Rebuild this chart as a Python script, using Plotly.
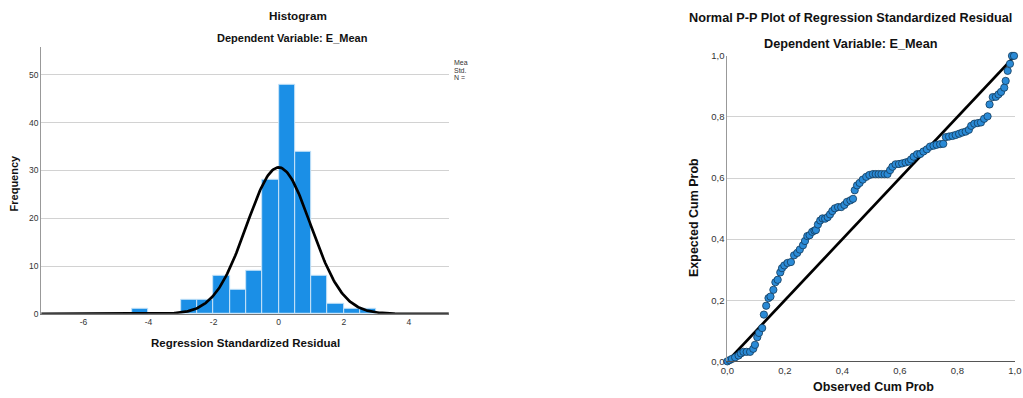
import numpy as np
import plotly.graph_objects as go

# ---------------- data ----------------
bin_left = [-4.5, -3.0, -2.5, -2.0, -1.5, -1.0, -0.5, 0.0, 0.5, 1.0, 1.5, 2.0, 2.5]
bin_count = [1, 3, 3, 8, 5, 9, 28, 48, 34, 8, 2, 1, 1]
bin_width = 0.5
resid_mean = 0.0
resid_std = 0.983
n_obs = sum(bin_count)

hist_xticks = [-6, -4, -2, 0, 2, 4]
hist_xticklabels = ["-6", "-4", "-2", "0", "2", "4"]
hist_yticks = [0, 10, 20, 30, 40, 50]
legend_lines = ["Mea", "Std.", "N ="]

pp_observed = [0.000, 0.008, 0.016, 0.027, 0.039, 0.047, 0.056, 0.067, 0.079, 0.090,
               0.096, 0.104, 0.110, 0.121, 0.127, 0.135, 0.143, 0.150, 0.160, 0.167,
               0.175, 0.184, 0.190, 0.198, 0.209, 0.221, 0.232, 0.243, 0.252, 0.263,
               0.270, 0.278, 0.286, 0.295, 0.303, 0.308, 0.315, 0.323, 0.331, 0.340,
               0.349, 0.357, 0.365, 0.374, 0.385, 0.396, 0.407, 0.416, 0.428, 0.437,
               0.443, 0.451, 0.460, 0.471, 0.483, 0.494, 0.506, 0.516, 0.526, 0.536,
               0.547, 0.557, 0.566, 0.574, 0.585, 0.597, 0.608, 0.620, 0.631, 0.639,
               0.648, 0.660, 0.671, 0.682, 0.694, 0.705, 0.717, 0.728, 0.740, 0.751,
               0.760, 0.771, 0.783, 0.794, 0.806, 0.817, 0.829, 0.840, 0.848, 0.859,
               0.871, 0.882, 0.893, 0.905, 0.912, 0.923, 0.934, 0.943, 0.952, 0.963,
               0.968, 0.975, 0.983, 0.990, 0.997]
pp_expected = [0.000, 0.004, 0.008, 0.013, 0.019, 0.026, 0.031, 0.031, 0.031, 0.041,
               0.054, 0.079, 0.093, 0.109, 0.153, 0.182, 0.207, 0.212, 0.234, 0.259,
               0.267, 0.291, 0.305, 0.314, 0.322, 0.325, 0.347, 0.355, 0.366, 0.380,
               0.394, 0.410, 0.413, 0.424, 0.428, 0.430, 0.448, 0.461, 0.468, 0.467,
               0.472, 0.481, 0.492, 0.501, 0.505, 0.505, 0.512, 0.522, 0.527, 0.532,
               0.560, 0.576, 0.584, 0.595, 0.604, 0.610, 0.613, 0.613, 0.613, 0.613,
               0.613, 0.613, 0.626, 0.637, 0.645, 0.646, 0.648, 0.651, 0.654, 0.661,
               0.670, 0.678, 0.679, 0.687, 0.694, 0.703, 0.706, 0.709, 0.711, 0.712,
               0.734, 0.736, 0.738, 0.741, 0.745, 0.749, 0.752, 0.758, 0.771, 0.778,
               0.780, 0.782, 0.794, 0.802, 0.841, 0.865, 0.866, 0.874, 0.882, 0.896,
               0.918, 0.951, 0.974, 1.000, 1.000]
pp_ref = [0.0, 1.0]
pp_ticks = [0.0, 0.2, 0.4, 0.6, 0.8, 1.0]

W, H = 1023, 398
FONT = "Liberation Sans, Arial, sans-serif"

# layout positions are given in reference-picture pixels and mapped onto the page
SX, SY, OFF = 1039 / 1023, 414 / 398, 8

def px(x):
    return (x * SX - OFF) / W

def py(y):
    return 1 - (y * SY - OFF) / H

hist_xrange = [-7.3, 5.23]
hist_yrange = [0, 55.9]

# normal curve from the distribution parameters
curve_x = np.linspace(hist_xrange[0], hist_xrange[1], 400)
curve_y = n_obs * bin_width / (resid_std * np.sqrt(2 * np.pi)) * np.exp(-0.5 * ((curve_x - resid_mean) / resid_std) ** 2)

bin_centers = [b + bin_width / 2 for b in bin_left]

fig = go.Figure()
fig.add_trace(go.Bar(x=bin_centers, y=bin_count, width=bin_width,
                     marker=dict(color="#1b8fe6", line=dict(color="#c9e4f8", width=1)),
                     xaxis="x", yaxis="y", showlegend=False))
fig.add_trace(go.Scatter(x=curve_x, y=curve_y, mode="lines",
                         line=dict(color="black", width=2.7),
                         xaxis="x", yaxis="y", showlegend=False, cliponaxis=False))

fig.add_trace(go.Scatter(x=pp_ref, y=pp_ref, mode="lines",
                         line=dict(color="black", width=2.7),
                         xaxis="x2", yaxis="y2", showlegend=False))
fig.add_trace(go.Scatter(x=pp_observed, y=pp_expected, mode="markers",
                         marker=dict(size=7.3, color="#2a8ad6", line=dict(color="#123a5a", width=0.8)),
                         xaxis="x2", yaxis="y2", showlegend=False, cliponaxis=False))

fig.update_layout(
    width=W, height=H,
    margin=dict(l=0, r=0, t=0, b=0),
    paper_bgcolor="white", plot_bgcolor="white",
    separators=",.",
    font=dict(family=FONT, color="#222"),
    bargap=0,
    xaxis=dict(domain=[px(42), px(449)], range=hist_xrange, tickvals=hist_xticks,
               ticktext=hist_xticklabels,
               ticks="", showgrid=False, zeroline=False, showline=True,
               linecolor="#777", linewidth=1, tickfont=dict(size=8.5, color="#333"),
               anchor="y", fixedrange=True),
    yaxis=dict(domain=[py(312), py(48)], range=hist_yrange, tickvals=hist_yticks,
               ticks="", showgrid=True, gridcolor="#d2d2d2", gridwidth=1, zeroline=False,
               showline=True, linecolor="#999", linewidth=1,
               tickfont=dict(size=8.5, color="#333"), anchor="x", fixedrange=True),
    xaxis2=dict(domain=[px(727), px(1014)], range=[0, 1], tickvals=pp_ticks, tickformat=".1f",
                ticks="", showgrid=False, zeroline=False, showline=True,
                linecolor="#555", linewidth=1.2, tickfont=dict(size=9.5, color="#333"),
                ticklabeloverflow="allow",
                anchor="y2", fixedrange=True),
    yaxis2=dict(domain=[py(359), py(57)], range=[0, 1], tickvals=pp_ticks, tickformat=".1f",
                ticks="", showgrid=True, gridcolor="#d2d2d2", gridwidth=1, zeroline=False,
                showline=True, linecolor="#999", linewidth=1,
                tickfont=dict(size=9.5, color="#333"), anchor="x2", fixedrange=True),
)

def ann(text, x, y, size, bold=False, angle=0, xanchor="center", color="#111"):
    t = f"<b>{text}</b>" if bold else text
    fig.add_annotation(text=t, x=px(x), y=py(y), xref="paper", yref="paper",
                       xanchor=xanchor, yanchor="middle", showarrow=False,
                       textangle=angle, font=dict(family=FONT, size=size, color=color))

ann("Histogram", 298, 17, 11.7, bold=True)
ann("Dependent Variable: E_Mean", 293, 39, 11, bold=True)
ann("Regression Standardized Residual", 246, 341, 11.5, bold=True)
ann("Frequency", 15, 183, 11, bold=True, angle=-90)
for i, line in enumerate(legend_lines):
    ann(line, 452, 64 + 7 * i, 7, xanchor="left", color="#333")

ann("Normal P-P Plot of Regression Standardized Residual", 850, 20, 12.7, bold=True)
ann("Dependent Variable: E_Mean", 850, 45, 12.7, bold=True)
ann("Expected Cum Prob", 693, 217, 12.5, bold=True, angle=-90)
ann("Observed Cum Prob", 873, 384, 12.5, bold=True)

fig.write_html("out.html", config={"displayModeBar": False},
               post_script="document.body.style.margin='0';document.body.style.overflow='hidden';")
